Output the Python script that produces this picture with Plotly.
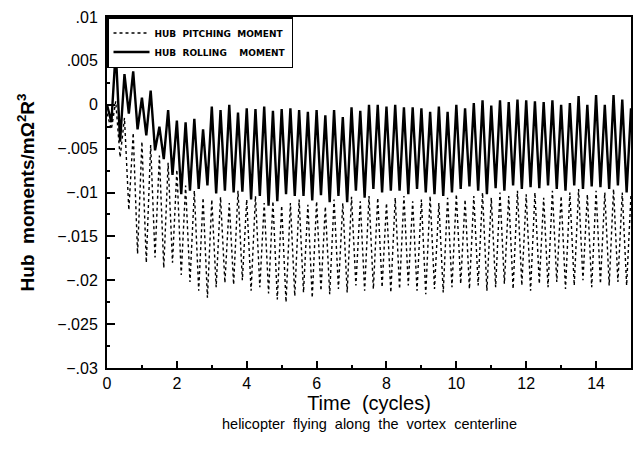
import plotly.graph_objects as go

# Sample times (rotor cycles), one sample every eighth of a revolution
time_cycles = [
    0.0, 0.125, 0.25, 0.375, 0.5, 0.625, 0.75, 0.875, 1.0, 1.125,
    1.25, 1.375, 1.5, 1.625, 1.75, 1.875, 2.0, 2.125, 2.25, 2.375,
    2.5, 2.625, 2.75, 2.875, 3.0, 3.125, 3.25, 3.375, 3.5, 3.625,
    3.75, 3.875, 4.0, 4.125, 4.25, 4.375, 4.5, 4.625, 4.75, 4.875,
    5.0, 5.125, 5.25, 5.375, 5.5, 5.625, 5.75, 5.875, 6.0, 6.125,
    6.25, 6.375, 6.5, 6.625, 6.75, 6.875, 7.0, 7.125, 7.25, 7.375,
    7.5, 7.625, 7.75, 7.875, 8.0, 8.125, 8.25, 8.375, 8.5, 8.625,
    8.75, 8.875, 9.0, 9.125, 9.25, 9.375, 9.5, 9.625, 9.75, 9.875,
    10.0, 10.125, 10.25, 10.375, 10.5, 10.625, 10.75, 10.875, 11.0, 11.125,
    11.25, 11.375, 11.5, 11.625, 11.75, 11.875, 12.0, 12.125, 12.25, 12.375,
    12.5, 12.625, 12.75, 12.875, 13.0, 13.125, 13.25, 13.375, 13.5, 13.625,
    13.75, 13.875, 14.0, 14.125, 14.25, 14.375, 14.5, 14.625, 14.75, 14.875,
    15.0,
]

# Hub rolling moment (solid line)
rolling_moment = [
    0.0000, -0.0020, 0.0062, -0.0042, 0.0035, -0.0010, 0.0038, -0.0028, 0.0008, -0.0035,
    0.0016, -0.0052, -0.0025, -0.0062, -0.0006, -0.0080, -0.0018, -0.0102, -0.0020, -0.0098,
    -0.0016, -0.0096, -0.0028, -0.0092, -0.0002, -0.0101, -0.0006, -0.0098, 0.0000, -0.0100,
    -0.0009, -0.0099, -0.0004, -0.0108, -0.0005, -0.0104, -0.0002, -0.0115, -0.0007, -0.0110,
    -0.0005, -0.0102, -0.0004, -0.0104, -0.0006, -0.0104, -0.0008, -0.0109, -0.0006, -0.0103,
    -0.0012, -0.0111, -0.0006, -0.0104, -0.0014, -0.0111, -0.0003, -0.0098, -0.0007, -0.0106,
    0.0000, -0.0096, 0.0000, -0.0100, -0.0002, -0.0098, 0.0000, -0.0098, -0.0003, -0.0102,
    -0.0003, -0.0096, -0.0004, -0.0100, -0.0008, -0.0102, -0.0002, -0.0104, -0.0008, -0.0100,
    0.0000, -0.0096, -0.0004, -0.0093, 0.0002, -0.0098, 0.0005, -0.0102, -0.0001, -0.0095,
    0.0005, -0.0098, 0.0003, -0.0092, 0.0006, -0.0096, 0.0005, -0.0094, 0.0004, -0.0095,
    0.0003, -0.0092, 0.0005, -0.0096, 0.0000, -0.0098, 0.0002, -0.0092, 0.0010, -0.0096,
    0.0000, -0.0093, 0.0011, -0.0094, 0.0000, -0.0096, 0.0011, -0.0092, 0.0006, -0.0100,
    -0.0004,
]

# Hub pitching moment (dotted line)
pitching_moment = [
    -0.0010, -0.0028, 0.0004, -0.0060, -0.0015, -0.0120, -0.0032, -0.0170, -0.0042, -0.0180,
    -0.0046, -0.0174, -0.0058, -0.0186, -0.0066, -0.0180, -0.0074, -0.0194, -0.0092, -0.0202,
    -0.0098, -0.0212, -0.0106, -0.0220, -0.0108, -0.0208, -0.0105, -0.0203, -0.0112, -0.0205,
    -0.0098, -0.0200, -0.0108, -0.0212, -0.0104, -0.0208, -0.0112, -0.0215, -0.0110, -0.0222,
    -0.0115, -0.0225, -0.0112, -0.0218, -0.0108, -0.0214, -0.0114, -0.0220, -0.0110, -0.0212,
    -0.0116, -0.0216, -0.0108, -0.0210, -0.0112, -0.0214, -0.0105, -0.0206, -0.0110, -0.0212,
    -0.0104, -0.0210, -0.0106, -0.0208, -0.0112, -0.0214, -0.0106, -0.0210, -0.0104, -0.0206,
    -0.0110, -0.0212, -0.0108, -0.0216, -0.0104, -0.0210, -0.0112, -0.0214, -0.0106, -0.0208,
    -0.0102, -0.0204, -0.0108, -0.0210, -0.0104, -0.0206, -0.0100, -0.0212, -0.0106, -0.0208,
    -0.0100, -0.0204, -0.0104, -0.0210, -0.0098, -0.0206, -0.0102, -0.0212, -0.0100, -0.0204,
    -0.0106, -0.0208, -0.0098, -0.0202, -0.0104, -0.0210, -0.0100, -0.0206, -0.0096, -0.0200,
    -0.0102, -0.0208, -0.0098, -0.0204, -0.0100, -0.0206, -0.0096, -0.0202, -0.0100, -0.0206,
    -0.0102,
]

x_tick_vals = [0, 2, 4, 6, 8, 10, 12, 14]
y_tick_vals = [0.01, 0.005, 0.0, -0.005, -0.01, -0.015, -0.02, -0.025, -0.03]
y_tick_text = [".01", ".005", "0", "\u2212.005", "\u2212.01", "\u2212.015",
               "\u2212.02", "\u2212.025", "\u2212.03"]

FONT = "Liberation Sans, Arial, sans-serif"

fig = go.Figure()
fig.add_trace(go.Scatter(
    x=time_cycles, y=pitching_moment, mode="lines",
    name="<b>HUB  PITCHING  MOMENT</b>",
    line=dict(color="black", width=1.4, dash="dot"),
))
fig.add_trace(go.Scatter(
    x=time_cycles, y=rolling_moment, mode="lines",
    name="<b>HUB  ROLLING    MOMENT</b>",
    line=dict(color="black", width=2.4),
))

fig.update_layout(
    width=642, height=466,
    margin=dict(l=107, r=9, t=12, b=98),
    paper_bgcolor="white", plot_bgcolor="white",
    font=dict(family=FONT, color="black"),
    showlegend=True,
    legend=dict(
        x=0, y=1, xanchor="left", yanchor="top",
        bgcolor="white", bordercolor="black", borderwidth=1.5,
        font=dict(size=9, family="DejaVu Sans, sans-serif", color="black"),
        tracegroupgap=0, itemwidth=36,
    ),
    annotations=[dict(
        text="helicopter  flying  along  the  vortex  centerline",
        xref="paper", yref="paper", x=0.5, y=-0.13,
        xanchor="center", yanchor="top", showarrow=False,
        font=dict(size=14.5, family=FONT, color="black"),
    )],
)

fig.update_xaxes(
    range=[0, 15], tickvals=x_tick_vals,
    ticks="inside", ticklen=7, tickwidth=1.5, tickcolor="black",
    minor=dict(tickvals=[1, 3, 5, 7, 9, 11, 13], ticks="inside", ticklen=3, tickcolor="black"),
    showline=True, linecolor="black", linewidth=2, mirror=True,
    showgrid=False, zeroline=False,
    tickfont=dict(size=16, family=FONT),
    title=dict(text="Time  (cycles)", font=dict(size=20, family=FONT), standoff=2),
)
fig.update_yaxes(
    range=[-0.03, 0.01], tickvals=y_tick_vals, ticktext=y_tick_text,
    ticks="inside", ticklen=8, tickwidth=1.5, tickcolor="black",
    minor=dict(tickvals=[0.0075, 0.0025, -0.0025, -0.0075, -0.0125, -0.0175,
                         -0.0225, -0.0275],
               ticks="inside", ticklen=3, tickcolor="black"),
    showline=True, linecolor="black", linewidth=2, mirror=True,
    showgrid=False, zeroline=False,
    tickfont=dict(size=16, family=FONT), ticklabelstandoff=4,
    title=dict(text="<b>Hub  moments/m\u03a9<sup>2</sup>R<sup>3</sup></b>",
               font=dict(size=19, family=FONT), standoff=18),
)

fig.write_html("out.html")
